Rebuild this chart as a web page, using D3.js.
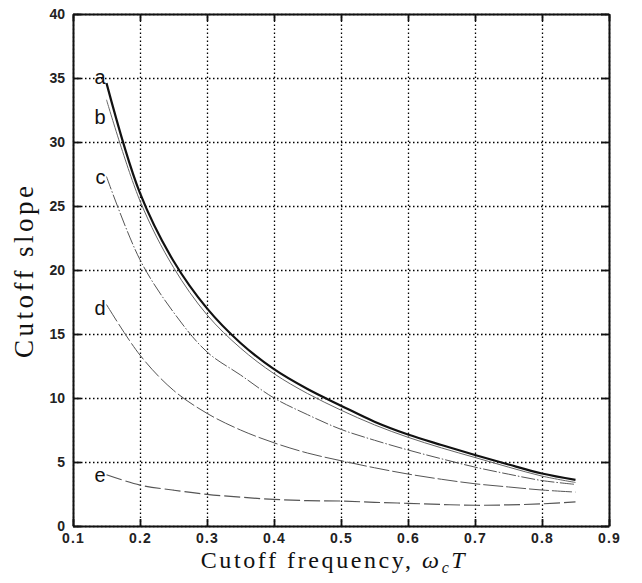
<!DOCTYPE html>
<html>
<head>
<meta charset="utf-8">
<script src="https://cdn.jsdelivr.net/npm/d3@7"></script>
<style>
  body { margin: 0; background: #fff; }
</style>
</head>
<body>
<div id="chart"></div>
<script>
// cutoff frequency samples (omega_c * T)
const freq = [0.15, 0.2, 0.25, 0.3, 0.35, 0.4, 0.45, 0.5, 0.55, 0.6, 0.65, 0.7, 0.75, 0.8, 0.85];

// cutoff slope for each curve
const slopeA = [34.6, 26.0, 20.7, 17.0, 14.3, 12.25, 10.7, 9.4, 8.15, 7.15, 6.33, 5.55, 4.8, 4.1, 3.6];
const slopeB = [33.3, 25.4, 20.2, 16.5, 13.9, 11.9, 10.35, 9.05, 7.9, 6.93, 6.1, 5.35, 4.6, 3.9, 3.4];
const slopeC = [27.3, 20.8, 16.7, 13.6, 11.8, 10.0, 8.7, 7.55, 6.7, 5.94, 5.25, 4.6, 4.05, 3.55, 3.25];
const slopeD = [17.3, 13.35, 10.6, 8.8, 7.5, 6.5, 5.7, 5.1, 4.55, 4.06, 3.65, 3.3, 3.05, 2.81, 2.65];
const slopeE = [4.0, 3.2, 2.8, 2.47, 2.25, 2.08, 1.98, 1.95, 1.85, 1.77, 1.68, 1.62, 1.65, 1.73, 1.88];

const curveNames = ['a', 'b', 'c', 'd', 'e'];
const labelSlope = [34.5, 31.4, 26.7, 16.5, 3.46]; // baseline of each curve letter

const xTicks = [0.1, 0.2, 0.3, 0.4, 0.5, 0.6, 0.7, 0.8, 0.9];
const yTicks = [0, 5, 10, 15, 20, 25, 30, 35, 40];

const width = 642, height = 583;
const margin = {top: 14, right: 33, bottom: 57, left: 73};
const innerW = width - margin.left - margin.right;
const innerH = height - margin.top - margin.bottom;

const svg = d3.select('#chart').append('svg').attr('width', width).attr('height', height);
svg.append('rect').attr('width', width).attr('height', height).attr('fill', '#fff');

const g = svg.append('g').attr('transform', `translate(${margin.left},${margin.top})`);

const x = d3.scaleLinear().domain([0.1, 0.9]).range([0, innerW]);
const y = d3.scaleLinear().domain([0, 40]).range([innerH, 0]);

// dotted grid
const gridX = g.append('g').attr('transform', `translate(0,${innerH})`)
    .call(d3.axisBottom(x).tickValues(xTicks).tickSize(-innerH).tickFormat(''));
const gridY = g.append('g')
    .call(d3.axisLeft(y).tickValues(yTicks).tickSize(-innerW).tickFormat(''));
[gridX, gridY].forEach(gr => {
    gr.select('.domain').remove();
    gr.selectAll('line').attr('stroke', '#000').attr('stroke-width', 1.3).attr('stroke-dasharray', '1.5,2.5');
});

// curves
const series = [slopeA, slopeB, slopeC, slopeD, slopeE];
const styles = [
    {color: '#111', w: 2.2, dash: null},
    {color: '#666', w: 1, dash: null},
    {color: '#555', w: 1, dash: '14,2,1.5,2'},
    {color: '#555', w: 1, dash: '20,3'},
    {color: '#555', w: 1.2, dash: '16,4'}
];
const line = d3.line().x((d, i) => x(freq[i])).y(d => y(d)).curve(d3.curveCatmullRom.alpha(0.5));

series.forEach((s, k) => {
    g.append('path').datum(s)
        .attr('d', line)
        .attr('fill', 'none')
        .attr('stroke', styles[k].color)
        .attr('stroke-width', styles[k].w)
        .attr('stroke-dasharray', styles[k].dash);
});

// curve letters
g.selectAll('.lbl').data(curveNames).enter().append('text')
    .attr('class', 'lbl')
    .attr('x', x(freq[0]) - 1)
    .attr('y', (d, i) => y(labelSlope[i]))
    .attr('text-anchor', 'end')
    .style('font-family', '"Liberation Sans", Arial, sans-serif')
    .style('font-size', '20px')
    .attr('fill', '#111')
    .text(d => d);

// axes with inward ticks
const fmt = d3.format('.1f');
const axB = g.append('g').attr('transform', `translate(0,${innerH})`)
    .call(d3.axisBottom(x).tickValues(xTicks).tickSizeInner(-7).tickSizeOuter(0).tickPadding(7).tickFormat(fmt));
const axL = g.append('g')
    .call(d3.axisLeft(y).tickValues(yTicks).tickSizeInner(-8).tickSizeOuter(0).tickPadding(8));
const axT = g.append('g')
    .call(d3.axisTop(x).tickValues(xTicks).tickSizeInner(-7).tickSizeOuter(0).tickFormat(''));
const axR = g.append('g').attr('transform', `translate(${innerW},0)`)
    .call(d3.axisRight(y).tickValues(yTicks).tickSizeInner(-8).tickSizeOuter(0).tickFormat(''));
[axB, axL, axT, axR].forEach(a => {
    a.select('.domain').attr('stroke', '#111').attr('stroke-width', 2);
    a.selectAll('.tick line').attr('stroke', '#111').attr('stroke-width', 1.8);
    a.selectAll('.tick text')
        .style('font-family', '"Liberation Sans", Arial, sans-serif')
        .style('font-weight', 'bold')
        .style('font-size', '14px')
        .attr('fill', '#222');
});
axB.selectAll('.tick text').style('letter-spacing', '1.2px');

// axis titles
svg.append('text')
    .attr('transform', 'translate(33,272) rotate(-90)')
    .attr('text-anchor', 'middle')
    .attr('textLength', 172)
    .style('font-family', '"Liberation Serif", "Times New Roman", serif')
    .style('font-size', '27px')
    .attr('fill', '#111')
    .text('Cutoff slope');

const xt = svg.append('text')
    .attr('x', 334).attr('y', 568)
    .attr('text-anchor', 'middle')
    .style('font-family', '"Liberation Serif", "Times New Roman", serif')
    .style('font-size', '24px')
    .style('letter-spacing', '2.6px')
    .attr('fill', '#111');
xt.append('tspan').text('Cutoff frequency, ');
xt.append('tspan').style('font-style', 'italic').text('ω');
xt.append('tspan').style('font-style', 'italic').style('font-size', '16px').attr('dy', 5).text('c');
xt.append('tspan').style('font-style', 'italic').attr('dy', -5).text('T');
</script>
</body>
</html>
